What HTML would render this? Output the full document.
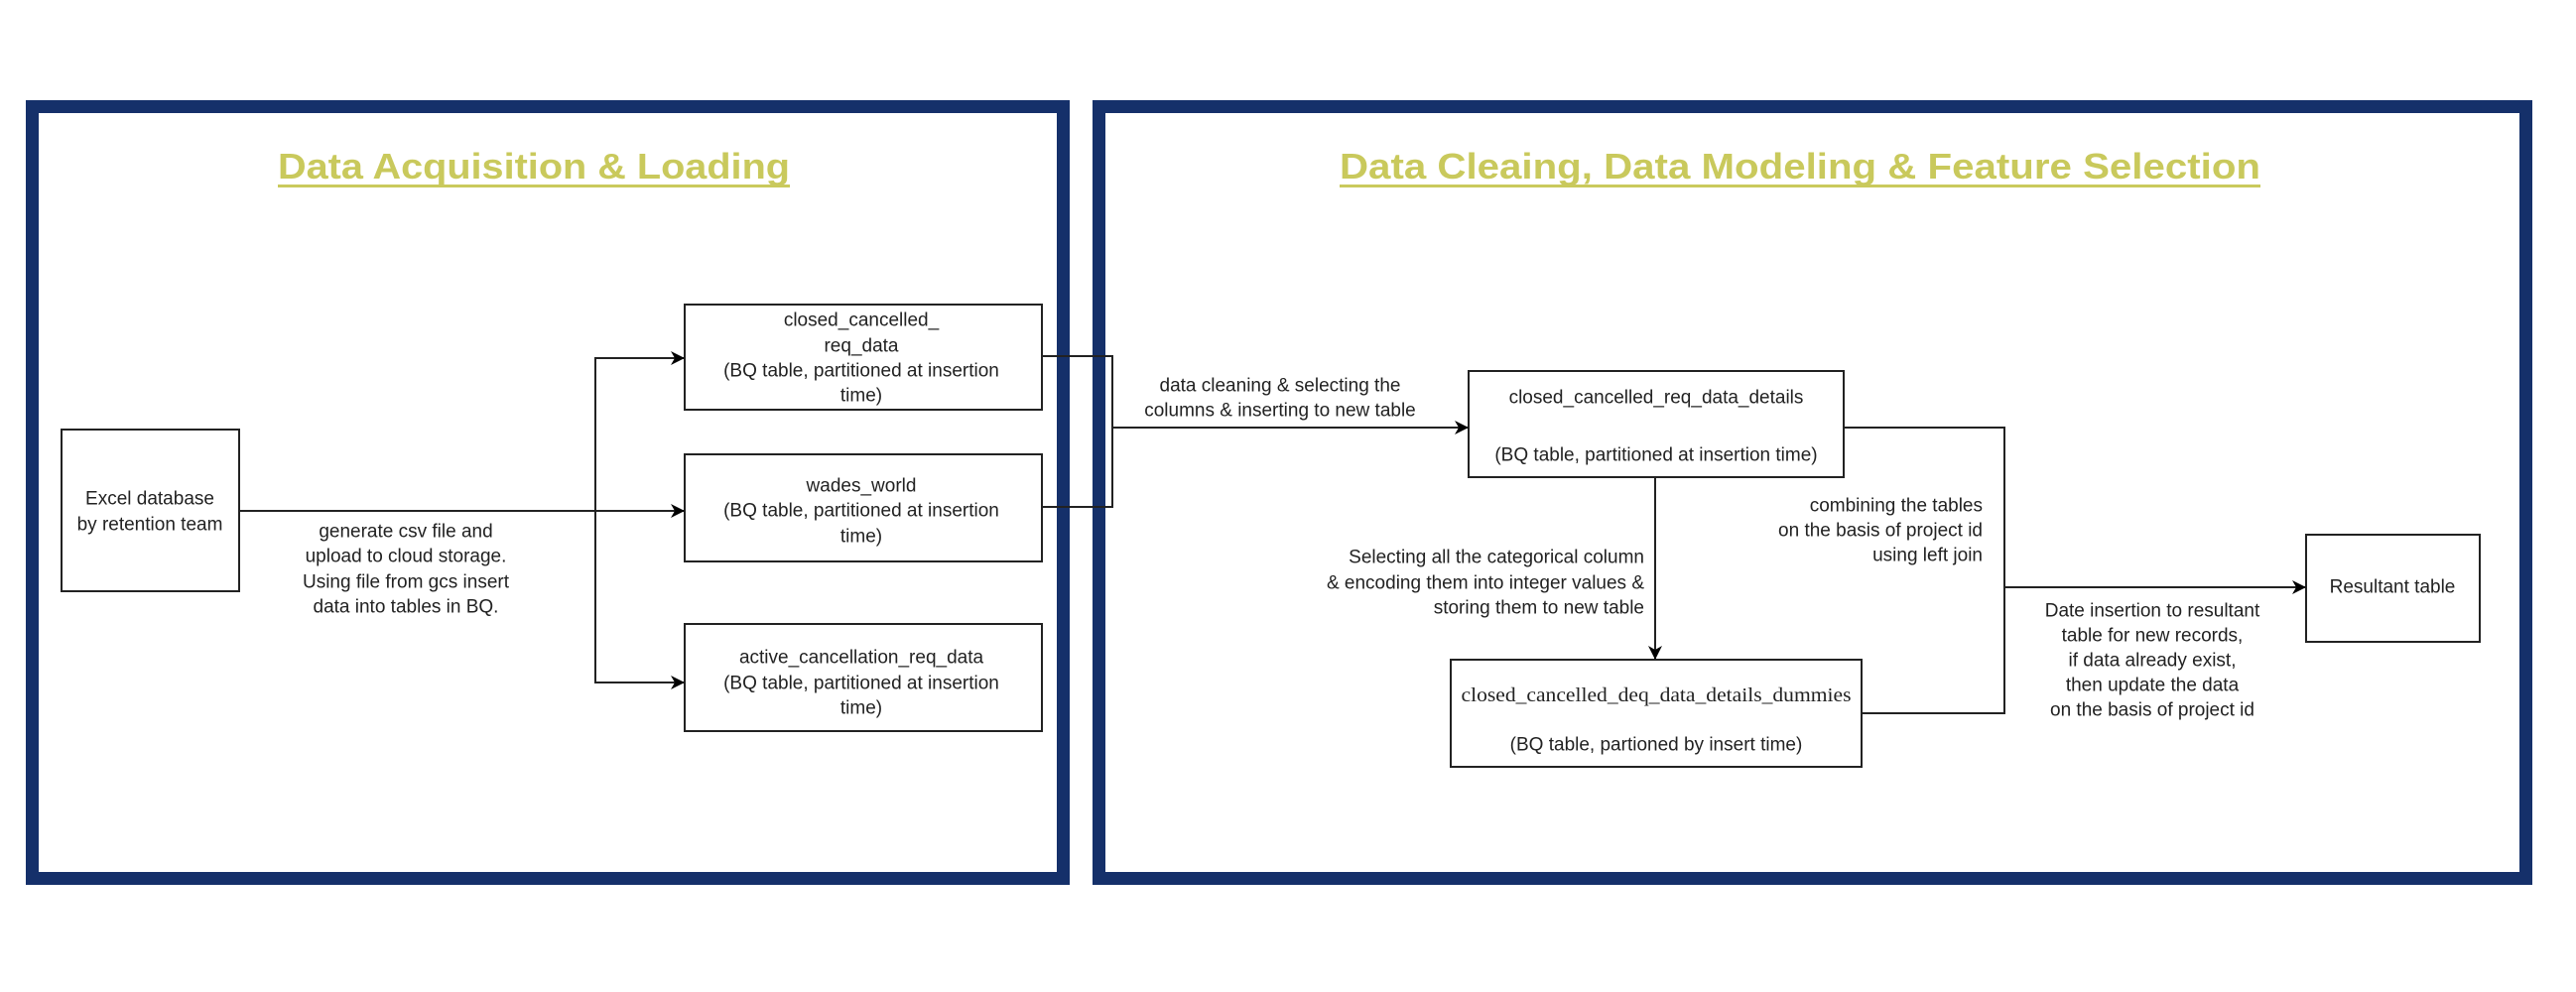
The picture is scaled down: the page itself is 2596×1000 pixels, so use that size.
<!DOCTYPE html>
<html><head><meta charset="utf-8"><style>html,body{margin:0;padding:0;background:#fff;}svg{display:block}</style></head>
<body>
<svg width="2596" height="1000" viewBox="0 0 2596 1000" xmlns="http://www.w3.org/2000/svg" font-family="Liberation Sans, sans-serif">
<defs>
<marker id="a" markerWidth="14" markerHeight="14" refX="13" refY="7" orient="auto" markerUnits="userSpaceOnUse">
<path d="M0,0 L14,7 L0,14 L4,7 z" fill="#000"/>
</marker>
</defs>
<rect width="2596" height="1000" fill="#fff"/>
<rect x="32.5" y="107.5" width="1039" height="778" fill="none" stroke="#15306a" stroke-width="13"/>
<rect x="1107.5" y="107.5" width="1438" height="778" fill="none" stroke="#15306a" stroke-width="13"/>
<g font-weight="bold" font-size="36" fill="#c9c95c" text-anchor="middle">
<text x="538" y="180" textLength="516" lengthAdjust="spacingAndGlyphs">Data Acquisition &amp; Loading</text>
<text x="1814" y="180" textLength="928" lengthAdjust="spacingAndGlyphs">Data Cleaing, Data Modeling &amp; Feature Selection</text>
</g>
<rect x="280" y="186" width="516" height="3" fill="#c9c95c"/>
<rect x="1350" y="186" width="928" height="3" fill="#c9c95c"/>
<g fill="none" stroke="#222" stroke-width="2">
<rect x="62" y="433" width="179" height="163"/>
<rect x="690" y="307" width="360" height="106"/>
<rect x="690" y="458" width="360" height="108"/>
<rect x="690" y="629" width="360" height="108"/>
<rect x="1480" y="374" width="378" height="107"/>
<rect x="1462" y="665" width="414" height="108"/>
<rect x="2324" y="539" width="175" height="108"/>
<path d="M241,515 H689" marker-end="url(#a)"/>
<path d="M600,515 V361 H689" marker-end="url(#a)"/>
<path d="M600,515 V688 H689" marker-end="url(#a)"/>
<path d="M1050,359 H1121 V511 H1050"/>
<path d="M1121,431 H1479" marker-end="url(#a)"/>
<path d="M1668,481 V664" marker-end="url(#a)"/>
<path d="M1858,431 H2020 V719 H1876"/>
<path d="M2020,592 H2323" marker-end="url(#a)"/>
</g>
<g font-size="19" fill="#222" text-anchor="middle" dominant-baseline="central">
<text x="151" y="503">Excel database</text>
<text x="151" y="529">by retention team</text>
<text x="409" y="536">generate csv file and</text>
<text x="409" y="561">upload to cloud storage.</text>
<text x="409" y="587">Using file from gcs insert</text>
<text x="409" y="612">data into tables in BQ.</text>
<text x="868" y="323">closed_cancelled_</text>
<text x="868" y="349">req_data</text>
<text x="868" y="374">(BQ table, partitioned at insertion</text>
<text x="868" y="399">time)</text>
<text x="868" y="490">wades_world</text>
<text x="868" y="515">(BQ table, partitioned at insertion</text>
<text x="868" y="541">time)</text>
<text x="868" y="663">active_cancellation_req_data</text>
<text x="868" y="689">(BQ table, partitioned at insertion</text>
<text x="868" y="714">time)</text>
<text x="1290" y="389">data cleaning &amp; selecting the</text>
<text x="1290" y="414">columns &amp; inserting to new table</text>
<text x="1669" y="401">closed_cancelled_req_data_details</text>
<text x="1669" y="459">(BQ table, partitioned at insertion time)</text>
<text x="1669" y="751">(BQ table, partioned by insert time)</text>
<text x="2169" y="616">Date insertion to resultant</text>
<text x="2169" y="641">table for new records,</text>
<text x="2169" y="666">if data already exist,</text>
<text x="2169" y="691">then update the data</text>
<text x="2169" y="716">on the basis of project id</text>
<text x="2411" y="592">Resultant table</text>
</g>
<g font-size="19" fill="#222" text-anchor="end" dominant-baseline="central">
<text x="1998" y="510">combining the tables</text>
<text x="1998" y="535">on the basis of project id</text>
<text x="1998" y="560">using left join</text>
<text x="1657" y="562">Selecting all the categorical column</text>
<text x="1657" y="588">&amp; encoding them into integer values &amp;</text>
<text x="1657" y="613">storing them to new table</text>
</g>
<text x="1669" y="707" font-family="Liberation Serif, serif" font-size="20" fill="#222" text-anchor="middle" textLength="393" lengthAdjust="spacingAndGlyphs">closed_cancelled_deq_data_details_dummies</text>
</svg>
</body></html>
